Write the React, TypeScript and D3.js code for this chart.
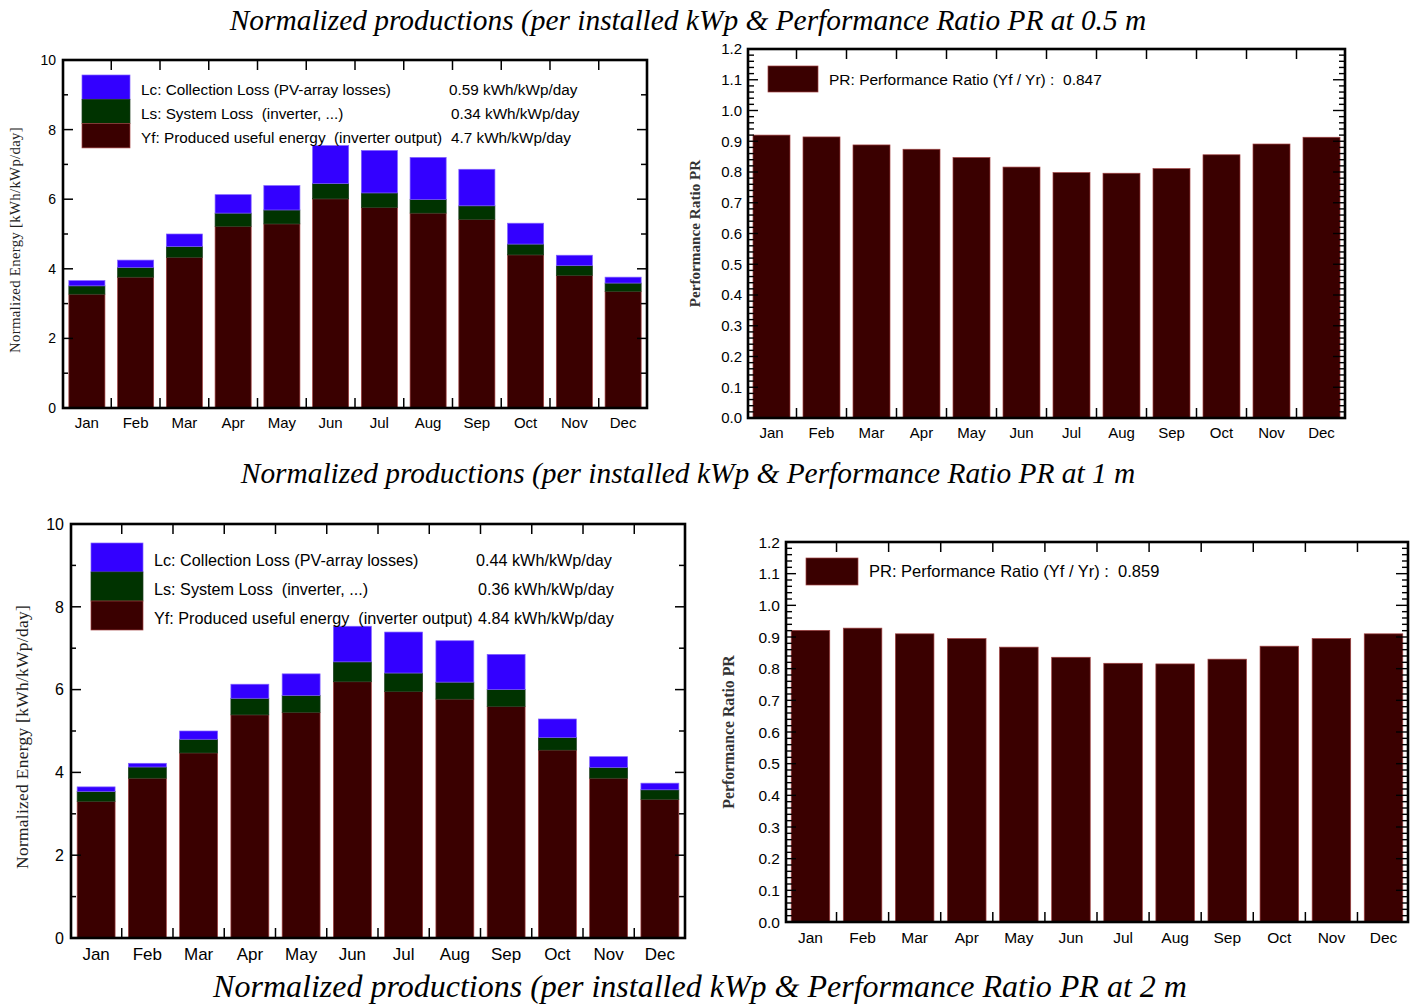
import React from "react";
import * as d3 from "d3";

const MONTHS = ["Jan", "Feb", "Mar", "Apr", "May", "Jun", "Jul", "Aug", "Sep", "Oct", "Nov", "Dec"];

// 0.5 m – segment sizes (kWh/kWp/day)
const YF_05 = [3.27, 3.76, 4.33, 5.22, 5.29, 6.01, 5.76, 5.6, 5.42, 4.4, 3.81, 3.35];
const LS_05 = [0.24, 0.28, 0.31, 0.38, 0.4, 0.44, 0.42, 0.39, 0.39, 0.31, 0.28, 0.24];
const LC_05 = [0.15, 0.21, 0.36, 0.53, 0.7, 1.09, 1.22, 1.21, 1.05, 0.6, 0.3, 0.17];
const PR_05 = [0.92, 0.914, 0.888, 0.874, 0.847, 0.816, 0.798, 0.796, 0.811, 0.856, 0.891, 0.913];

// 1 m
const YF_1 = [3.3, 3.86, 4.47, 5.39, 5.45, 6.19, 5.95, 5.77, 5.59, 4.54, 3.86, 3.35];
const LS_1 = [0.24, 0.27, 0.33, 0.4, 0.41, 0.48, 0.45, 0.41, 0.41, 0.3, 0.26, 0.23];
const LC_1 = [0.11, 0.09, 0.2, 0.34, 0.52, 0.86, 0.99, 1.0, 0.85, 0.45, 0.26, 0.16];
const PR_1 = [0.921, 0.928, 0.91, 0.895, 0.868, 0.836, 0.817, 0.815, 0.83, 0.871, 0.895, 0.91];

const LEGEND_LABELS = [
  "Lc: Collection Loss (PV-array losses)",
  "Ls: System Loss  (inverter, ...)",
  "Yf: Produced useful energy  (inverter output)",
];
const LEGEND_VALUES_05 = ["0.59 kWh/kWp/day", "0.34 kWh/kWp/day", "4.7 kWh/kWp/day"];
const LEGEND_VALUES_1 = ["0.44 kWh/kWp/day", "0.36 kWh/kWp/day", "4.84 kWh/kWp/day"];
const PR_LABEL_05 = "PR: Performance Ratio (Yf / Yr) :  0.847";
const PR_LABEL_1 = "PR: Performance Ratio (Yf / Yr) :  0.859";

const TITLES = [
  "Normalized productions (per installed kWp & Performance Ratio PR at 0.5 m",
  "Normalized productions (per installed kWp & Performance Ratio PR at 1 m",
  "Normalized productions (per installed kWp & Performance Ratio PR at 2 m",
];

const C_YF = "#3a0000";
const C_LS = "#003300";
const C_LC = "#3300ff";
const SANS = "'Liberation Sans', Arial, sans-serif";
const SERIF = "'Liberation Serif', 'Times New Roman', serif";
const PRE = { whiteSpace: "pre" } as React.CSSProperties;

type Box = { left: number; right: number; top: number; bottom: number };

function XAxisTicks({ x, box }: { x: d3.ScaleBand<string>; box: Box }) {
  const step = x.step();
  const bounds = MONTHS.slice(1).map((m) => (x(m) as number) - (step * x.paddingInner()) / 2);
  return (
    <g stroke="#000" strokeWidth={1.5}>
      {bounds.map((b, i) => (
        <g key={i}>
          <line x1={b} x2={b} y1={box.bottom} y2={box.bottom - 10} />
          <line x1={b} x2={b} y1={box.top} y2={box.top + 10} />
        </g>
      ))}
    </g>
  );
}

function EnergyPanel(props: {
  box: Box;
  yf: number[];
  ls: number[];
  lc: number[];
  values: string[];
  fs: number;
  xfs: number;
  lfs: number;
  leg: { sx: number; sw: number; sy: number; sh: number; tx: number; vx: number; tdy: number };
  ylab: { x: number; fs: number };
}) {
  const { box, yf, ls, lc, values, fs, xfs, lfs, leg, ylab } = props;
  const x = d3.scaleBand<string>().domain(MONTHS).range([box.left, box.right]).paddingInner(0.26).paddingOuter(0.12);
  const y = d3.scaleLinear().domain([0, 10]).range([box.bottom, box.top]);
  const rows = MONTHS.map((m, i) => ({ m, yf: yf[i], ls: ls[i], lc: lc[i] }));
  const stack = d3.stack<any>().keys(["yf", "ls", "lc"])(rows);
  const colors: Record<string, string> = { yf: C_YF, ls: C_LS, lc: C_LC };
  const strokes: Record<string, string> = { yf: "#a04040", ls: "#1d3d1d", lc: "#8060ff" };
  const major = d3.range(0, 11, 2);
  const minor = d3.range(1, 10, 2);
  const legColors = [C_LC, C_LS, C_YF];
  const legStrokes = ["#8060ff", "#1d3d1d", "#a04040"];
  return (
    <g>
      {stack.map((s) => (
        <g key={s.key}>
          {s.map((d, i) => (
            <rect
              key={i}
              x={x(MONTHS[i])}
              width={x.bandwidth()}
              y={y(d[1])}
              height={y(d[0]) - y(d[1])}
              fill={colors[s.key]}
              stroke={strokes[s.key]}
              strokeWidth={0.7}
            />
          ))}
        </g>
      ))}
      <XAxisTicks x={x} box={box} />
      <g stroke="#000" strokeWidth={1.5}>
        {major.map((v) => (
          <g key={v}>
            <line x1={box.left} x2={box.left + 10} y1={y(v)} y2={y(v)} />
            <line x1={box.right} x2={box.right - 10} y1={y(v)} y2={y(v)} />
          </g>
        ))}
        {minor.map((v) => (
          <g key={v}>
            <line x1={box.left} x2={box.left + 5} y1={y(v)} y2={y(v)} />
            <line x1={box.right} x2={box.right - 6} y1={y(v)} y2={y(v)} />
          </g>
        ))}
      </g>
      <rect x={box.left} y={box.top} width={box.right - box.left} height={box.bottom - box.top} fill="none" stroke="#000" strokeWidth={2.6} />
      <g fontFamily={SANS} fill="#000">
        {major.map((v) => (
          <text key={v} x={box.left - 7} y={y(v)} dy="0.36em" textAnchor="end" fontSize={fs}>
            {v}
          </text>
        ))}
        {MONTHS.map((m) => (
          <text key={m} x={(x(m) as number) + x.bandwidth() / 2} y={box.bottom + xfs + 5} textAnchor="middle" fontSize={xfs}>
            {m}
          </text>
        ))}
      </g>
      <text
        transform={`translate(${ylab.x},${(box.top + box.bottom) / 2 + 6}) rotate(-90)`}
        textAnchor="middle"
        fontFamily={SERIF}
        fontSize={ylab.fs}
        letterSpacing={0.3}
        fill="#222"
      >
        Normalized Energy [kWh/kWp/day]
      </text>
      {LEGEND_LABELS.map((lab, i) => {
        const ty = leg.sy + i * leg.sh + leg.sh / 2 + leg.tdy;
        return (
          <g key={lab}>
            <rect x={leg.sx} y={leg.sy + i * leg.sh} width={leg.sw} height={leg.sh} fill={legColors[i]} stroke={legStrokes[i]} strokeWidth={0.7} />
            <text x={leg.tx} y={ty} dy="0.36em" fontFamily={SANS} fontSize={lfs} fill="#000" style={PRE}>
              {lab}
            </text>
            <text x={leg.vx + (i === 0 ? -2 : 0)} y={ty} dy="0.36em" fontFamily={SANS} fontSize={lfs} fill="#000" style={PRE}>
              {values[i]}
            </text>
          </g>
        );
      })}
    </g>
  );
}

function PRPanel(props: {
  box: Box;
  pr: number[];
  label: string;
  fs: number;
  lfs: number;
  leg: { sx: number; sw: number; sy: number; sh: number; tx: number };
  ylab: { x: number; fs: number };
}) {
  const { box, pr, label, fs, lfs, leg, ylab } = props;
  const x = d3.scaleBand<string>().domain(MONTHS).range([box.left, box.right]).paddingInner(0.26).paddingOuter(0.1);
  const y = d3.scaleLinear().domain([0, 1.2]).range([box.bottom, box.top]);
  const major = d3.range(0, 13).map((i) => i / 10);
  const minor = d3.range(0, 61).filter((i) => i % 5 !== 0).map((i) => i / 50);
  return (
    <g>
      {pr.map((v, i) => (
        <rect
          key={i}
          x={x(MONTHS[i])}
          width={x.bandwidth()}
          y={y(v)}
          height={y(0) - y(v)}
          fill={C_YF}
          stroke="#a04040"
          strokeWidth={0.7}
        />
      ))}
      <XAxisTicks x={x} box={box} />
      <g stroke="#000" strokeWidth={1.4}>
        {major.map((v) => (
          <g key={v}>
            <line x1={box.left} x2={box.left + 10} y1={y(v)} y2={y(v)} />
            <line x1={box.right} x2={box.right - 12} y1={y(v)} y2={y(v)} />
          </g>
        ))}
        {minor.map((v) => (
          <g key={v}>
            <line x1={box.left} x2={box.left + 6} y1={y(v)} y2={y(v)} />
            <line x1={box.right} x2={box.right - 6} y1={y(v)} y2={y(v)} />
          </g>
        ))}
      </g>
      <rect x={box.left} y={box.top} width={box.right - box.left} height={box.bottom - box.top} fill="none" stroke="#000" strokeWidth={2.6} />
      <g fontFamily={SANS} fontSize={fs} fill="#000">
        {major.map((v) => (
          <text key={v} x={box.left - 6} y={y(v)} dy="0.36em" textAnchor="end">
            {d3.format(".1f")(v)}
          </text>
        ))}
        {MONTHS.map((m) => (
          <text key={m} x={(x(m) as number) + x.bandwidth() / 2} y={box.bottom + fs + 5} textAnchor="middle">
            {m}
          </text>
        ))}
      </g>
      <text
        transform={`translate(${ylab.x},${(box.top + box.bottom) / 2}) rotate(-90)`}
        textAnchor="middle"
        fontFamily={SERIF}
        fontSize={ylab.fs}
        fontWeight="bold"
        fill="#333"
      >
        Performance Ratio PR
      </text>
      <rect x={leg.sx} y={leg.sy} width={leg.sw} height={leg.sh} fill={C_YF} stroke="#a04040" strokeWidth={0.7} />
      <text x={leg.tx} y={leg.sy + leg.sh / 2} dy="0.36em" fontFamily={SANS} fontSize={lfs} fill="#000" style={PRE}>
        {label}
      </text>
    </g>
  );
}

export default function App() {
  return (
    <div style={{ position: "absolute", left: 0, top: 0 }}>
      <svg width={1418} height={1005} style={{ display: "block", background: "#fff" }}>
        <g fontFamily={SERIF} fontStyle="italic" fill="#000" textAnchor="middle">
          <text x={688} y={30} fontSize={29.4}>{TITLES[0]}</text>
          <text x={688} y={483} fontSize={29.4}>{TITLES[1]}</text>
          <text x={700} y={997} fontSize={32}>{TITLES[2]}</text>
        </g>
        <EnergyPanel
          box={{ left: 63, right: 647, top: 60, bottom: 408 }}
          yf={YF_05}
          ls={LS_05}
          lc={LC_05}
          values={LEGEND_VALUES_05}
          fs={14}
          xfs={15}
          lfs={15.3}
          leg={{ sx: 82, sw: 48, sy: 75, sh: 24.3, tx: 141, vx: 451, tdy: 2 }}
          ylab={{ x: 20, fs: 14.8 }}
        />
        <PRPanel
          box={{ left: 748, right: 1345, top: 49, bottom: 418 }}
          pr={PR_05}
          label={PR_LABEL_05}
          fs={15}
          lfs={15.5}
          leg={{ sx: 768, sw: 50, sy: 66, sh: 26, tx: 829 }}
          ylab={{ x: 700, fs: 15.2 }}
        />
        <EnergyPanel
          box={{ left: 71, right: 685, top: 524, bottom: 938 }}
          yf={YF_1}
          ls={LS_1}
          lc={LC_1}
          values={LEGEND_VALUES_1}
          fs={16}
          xfs={17}
          lfs={16.2}
          leg={{ sx: 91, sw: 52, sy: 543, sh: 29, tx: 154, vx: 478, tdy: 3 }}
          ylab={{ x: 28, fs: 17.4 }}
        />
        <PRPanel
          box={{ left: 786, right: 1408, top: 542, bottom: 922 }}
          pr={PR_1}
          label={PR_LABEL_1}
          fs={15.5}
          lfs={16.5}
          leg={{ sx: 806, sw: 52, sy: 558, sh: 27, tx: 869 }}
          ylab={{ x: 734, fs: 15.8 }}
        />
      </svg>
    </div>
  );
}
